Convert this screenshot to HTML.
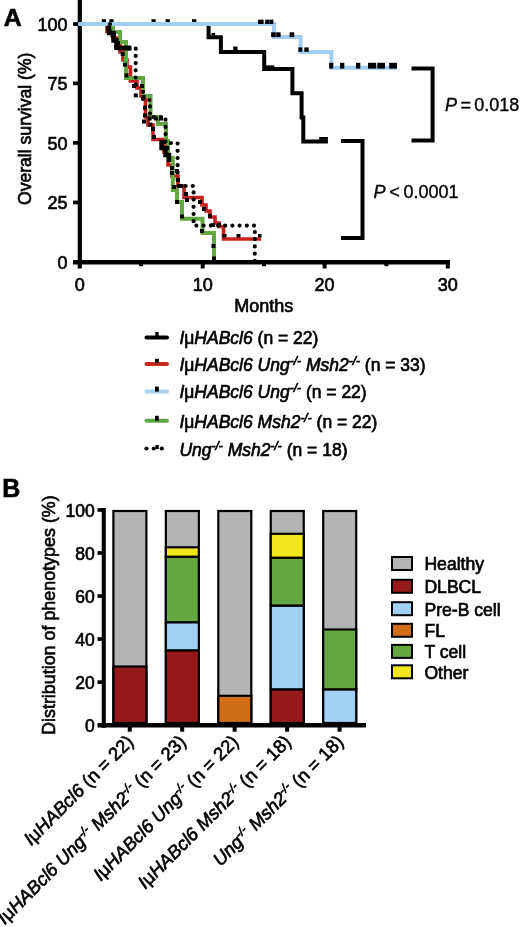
<!DOCTYPE html>
<html><head><meta charset="utf-8"><style>
html,body{margin:0;padding:0;background:#fff;width:520px;height:927px;overflow:hidden}
svg{display:block;will-change:transform}
text{font-family:"Liberation Sans",sans-serif;fill:#000;stroke:#000;stroke-width:0.65px}
.i{font-style:italic}
</style></head><body>
<svg width="520" height="927" viewBox="0 0 520 927">
<!-- ================= PANEL A ================= -->
<text x="3.8" y="26" font-size="24.8" font-weight="bold">A</text>
<!-- y tick labels -->
<g font-size="18" text-anchor="end">
<text x="67.5" y="30.5">100</text>
<text x="67.5" y="90">75</text>
<text x="67.5" y="149.5">50</text>
<text x="67.5" y="209">25</text>
<text x="67.5" y="268.5">0</text>
</g>
<g font-size="18" text-anchor="middle">
<text x="79.8" y="291">0</text>
<text x="202.7" y="291">10</text>
<text x="324.6" y="291">20</text>
<text x="447.8" y="291">30</text>
</g>
<text x="263.7" y="311.7" font-size="18" text-anchor="middle">Months</text>
<text transform="translate(31.4,128.8) rotate(-90)" font-size="17.6" text-anchor="middle">Overall survival (%)</text>

<!-- curves placeholder -->
<g id="curves" fill="none" stroke-linejoin="miter" stroke-linecap="butt">
<path d="M80,24 H208.6 V37.2 H220.9 V52 H264.2 V69 H292.4 V93.2 H301.6 V117.5 H303.3 V141.4 H327.9" stroke="#000" stroke-width="4"/>
<path d="M80,24 H107 V31.5 H113 V38 H117 V45 H120 V52 H123 V60 H127 V67 H130.4 V81 H137 V88 H141 V96 H145.5 V117 H148 V125 H153 V139.5 H164 V152 H168 V165 H172 V176 H178 V186 H184 V197.5 H202 V205 H206 V211 H210 V217 H215 V223 H219 V226.5 H223.5 V239 H261" stroke="#c8201e" stroke-width="3.6"/>
<path d="M80,24 H113 V32 H120 V42 H126 V78 H143 V96 H150.5 V117 H158 V124 H166 V141 H168 V158 H172.8 V190 H177 V202 H182 V218.8 H202.5 V233 H214 V262" stroke="#64a842" stroke-width="4"/>
<path d="M80,24 H274 V37 H300.6 V52 H331.4 V67.7 H397" stroke="#a2cef2" stroke-width="4"/>
<path d="M109,25.5 V33 H113.5 V40.5 H116.5 V47.8 H131" stroke="#000" stroke-width="4.4"/>
<path d="M161.5,140 V148 H165.5 V155 H169 V161" stroke="#000" stroke-width="4.4"/>
<path d="M110,24 V36 H116 V48.5 H135.7 V86 H143 V100 H150 V117 H165.5 V143 H177.6 V186 H193.6 V225.6 H254.8 V262" stroke="#000" stroke-width="4.2" stroke-linecap="round" stroke-dasharray="0 7.2"/>
</g>
<g id="cens" fill="#000">
<rect x="101.8" y="19.2" width="4.2" height="2.8"/><rect x="109.4" y="19.2" width="4.2" height="2.8"/>
<rect x="151.5" y="19.2" width="4.2" height="2.8"/><rect x="165.6" y="19.2" width="4.2" height="2.8"/>
<rect x="192" y="19.2" width="4.4" height="2.8"/>
<rect x="258" y="19.6" width="5.6" height="4.4"/><rect x="265.2" y="19.6" width="4" height="4.4"/><rect x="269.4" y="19.6" width="4" height="4.4"/>
<rect x="271.1" y="32.3" width="4.6" height="4.8"/><rect x="276.2" y="32.3" width="4.4" height="4.8"/><rect x="289.6" y="32.3" width="4.6" height="4.8"/>
<rect x="298.3" y="47.4" width="4" height="4.4"/><rect x="304.3" y="47.4" width="4.4" height="4.4"/>
<rect x="329.2" y="62.8" width="4" height="5.8"/><rect x="340.1" y="62.8" width="4.2" height="5.8"/>
<rect x="356" y="62.8" width="4.3" height="5.8"/><rect x="368" y="62.8" width="8.2" height="5.8"/>
<rect x="377.3" y="62.8" width="7.7" height="5.8"/><rect x="389.2" y="62.8" width="7.8" height="5.8"/>
<rect x="211.5" y="33" width="3.7" height="2.6"/><rect x="233.2" y="46.6" width="4.3" height="3.6"/>
<rect x="265.7" y="65.4" width="8.6" height="2.6"/><rect x="319.2" y="137" width="8.7" height="2.8"/>
<!-- cluster -->
<rect x="106" y="26.5" width="4" height="4"/>
<rect x="112" y="32.6" width="4" height="4"/>
<rect x="116" y="41" width="4" height="4"/>
<rect x="117.6" y="46.5" width="4" height="4"/>
<rect x="123" y="46.5" width="4" height="4"/>
<rect x="127.6" y="46.5" width="4" height="4"/>
<rect x="120.7" y="52" width="4" height="4"/>
<rect x="123" y="62.6" width="4" height="4"/>
<rect x="124.5" y="73.4" width="4" height="4"/>
<rect x="132" y="84" width="4" height="4"/>
<rect x="140" y="84" width="4" height="4"/>
<rect x="133.8" y="93.4" width="4" height="4"/>
<rect x="141.5" y="95" width="4" height="4"/>
<rect x="143" y="105.7" width="4" height="4"/>
<rect x="143" y="113.4" width="4" height="4"/>
<rect x="142" y="119.5" width="4" height="4"/>
<rect x="147.6" y="116.5" width="4" height="4"/>
<rect x="153.8" y="116.5" width="4" height="4"/>
<rect x="159" y="116.5" width="4" height="4"/>
<rect x="148.4" y="122.6" width="4" height="4"/>
<rect x="151" y="127" width="4" height="4"/>
<rect x="152" y="135" width="4" height="4"/>
<rect x="162" y="140" width="4" height="4"/>
<rect x="165" y="146" width="4" height="4"/>
<rect x="167" y="154" width="4" height="4"/>
<rect x="167" y="158" width="4" height="4"/>
<rect x="170" y="166" width="4" height="4"/>
<rect x="170" y="171" width="4" height="4"/>
<rect x="175" y="169" width="4" height="4"/>
<rect x="176" y="178" width="4" height="4"/>
<rect x="172" y="185" width="4" height="4"/>
<rect x="179" y="184" width="4" height="4"/>
<rect x="184" y="192" width="4" height="4"/>
<rect x="185" y="198" width="4" height="4"/>
<rect x="198" y="200" width="4" height="4"/>
<rect x="175" y="200" width="4" height="4"/>
<rect x="202" y="207" width="4" height="4"/>
<rect x="180" y="214.5" width="4" height="4"/>
<rect x="208" y="214" width="4" height="4"/>
<rect x="211" y="223" width="4" height="4"/>
<rect x="217" y="223" width="4" height="4"/>
<rect x="200" y="229" width="4" height="4"/>
<rect x="222.5" y="234" width="4" height="3.5"/>
<rect x="236.5" y="234" width="4" height="3.5"/>
<rect x="258" y="234" width="3.6" height="3.5"/>
<rect x="211.5" y="244" width="4" height="4"/>
<rect x="212" y="256.5" width="4" height="4"/>
</g>


<!-- axes A -->
<rect x="77.7" y="0" width="4.2" height="264.5" fill="#000"/>
<rect x="73" y="260" width="377" height="4.5" fill="#000"/>
<path d="M79.6,24 H90" stroke="#a2cef2" stroke-width="4" stroke-linecap="round"/>
<g fill="#000">
<rect x="73" y="22.2" width="5" height="3.7"/>
<rect x="73" y="81.5" width="5" height="3.7"/>
<rect x="73" y="141" width="5" height="3.7"/>
<rect x="73" y="200.6" width="5" height="3.7"/>
<rect x="77.7" y="264" width="4.2" height="4.5"/>
<rect x="200.7" y="264" width="4" height="4.5"/>
<rect x="322.6" y="264" width="4" height="4.5"/>
<rect x="445.8" y="264" width="4" height="4.5"/>
<rect x="139" y="264" width="4" height="2.2"/>
<rect x="262" y="264" width="4" height="2.2"/>
<rect x="384.4" y="264" width="4" height="2.2"/>
</g>

<!-- P brackets -->
<path d="M411.5,68.6 H432.6 V140.6 H411.5" fill="none" stroke="#000" stroke-width="4"/>
<path d="M341,141 H362.5 V238 H341" fill="none" stroke="#000" stroke-width="4"/>
<text x="445" y="110.8" font-size="18" word-spacing="-1.6" style="stroke-width:0.35px"><tspan class="i">P</tspan> = 0.018</text>
<text x="373.5" y="197.7" font-size="18" word-spacing="-1.3" style="stroke-width:0.35px"><tspan class="i">P</tspan> &lt; 0.0001</text>

<!-- legend A -->
<g stroke-width="4" stroke-linecap="round">
<line x1="146.5" y1="337.4" x2="167" y2="337.4" stroke="#000"/>
<line x1="146.5" y1="364" x2="167" y2="364" stroke="#c8281e"/>
<line x1="146.5" y1="391.6" x2="167" y2="391.6" stroke="#a8d0f0"/>
<line x1="146.5" y1="420.8" x2="167" y2="420.8" stroke="#5ea544"/>
</g>
<g fill="#000">
<rect x="155.3" y="332" width="3.3" height="4"/>
<rect x="155" y="358.8" width="3.8" height="4.6"/>
<rect x="155" y="386.6" width="3.8" height="5"/>
<rect x="155" y="415.8" width="3.8" height="5"/>
<circle cx="146.5" cy="448.5" r="2.1"/>
<circle cx="153.8" cy="448.5" r="2.1"/>
<circle cx="161.8" cy="448.5" r="2.1"/>
<rect x="155.5" y="445" width="3.3" height="4"/>
</g>
<g font-size="17.5">
<text x="179.4" y="344"><tspan class="i">I<tspan style="font-style:normal">μ</tspan>HABcl6</tspan> (n = 22)</text>
<text x="179.4" y="371.1"><tspan class="i">I<tspan style="font-style:normal">μ</tspan>HABcl6 Ung</tspan><tspan class="i" font-size="12" dy="-6.5">-/-</tspan><tspan class="i" dy="6.5"> Msh2</tspan><tspan class="i" font-size="12" dy="-6.5">-/-</tspan><tspan dy="6.5"> (n = 33)</tspan></text>
<text x="179.4" y="398.2"><tspan class="i">I<tspan style="font-style:normal">μ</tspan>HABcl6 Ung</tspan><tspan class="i" font-size="12" dy="-6.5">-/-</tspan><tspan dy="6.5"> (n = 22)</tspan></text>
<text x="179.4" y="428.4"><tspan class="i">I<tspan style="font-style:normal">μ</tspan>HABcl6 Msh2</tspan><tspan class="i" font-size="12" dy="-6.5">-/-</tspan><tspan dy="6.5"> (n = 22)</tspan></text>
<text x="179.4" y="456.1"><tspan class="i">Ung</tspan><tspan class="i" font-size="12" dy="-6.5">-/-</tspan><tspan class="i" dy="6.5"> Msh2</tspan><tspan class="i" font-size="12" dy="-6.5">-/-</tspan><tspan dy="6.5"> (n = 18)</tspan></text>
</g>

<!-- ================= PANEL B ================= -->
<text x="2.3" y="496.5" font-size="25" font-weight="bold">B</text>
<text transform="translate(55,615.1) rotate(-90)" font-size="17.9" text-anchor="middle">Distribution of phenotypes (%)</text>
<g font-size="17.5" text-anchor="end">
<text x="94.8" y="516.5">100</text>
<text x="94.8" y="559.6">80</text>
<text x="94.8" y="602.6">60</text>
<text x="94.8" y="645.7">40</text>
<text x="94.8" y="688.7">20</text>
<text x="94.8" y="731.8">0</text>
</g>
<!-- bars -->
<g stroke="#000" stroke-width="2.2">
<rect x="113.40" y="511" width="33" height="212" fill="#b4b4b4"/>
<rect x="113.40" y="666.5" width="33" height="56.5" fill="#961a1c"/>
<rect x="165.85" y="511" width="33" height="212" fill="#b4b4b4"/>
<rect x="165.85" y="650.3" width="33" height="72.7" fill="#961a1c"/>
<rect x="165.85" y="622.2" width="33" height="28.1" fill="#a2d0f2"/>
<rect x="165.85" y="556.7" width="33" height="65.5" fill="#64a640"/>
<rect x="165.85" y="547.3" width="33" height="9.4" fill="#f0e61a"/>
<rect x="218.30" y="511" width="33" height="212" fill="#b4b4b4"/>
<rect x="218.30" y="695.8" width="33" height="27.2" fill="#d06e18"/>
<rect x="270.75" y="511" width="33" height="212" fill="#b4b4b4"/>
<rect x="270.75" y="689.3" width="33" height="33.7" fill="#961a1c"/>
<rect x="270.75" y="605.6" width="33" height="83.7" fill="#a2d0f2"/>
<rect x="270.75" y="557.7" width="33" height="47.8" fill="#64a640"/>
<rect x="270.75" y="533.8" width="33" height="23.9" fill="#f0e61a"/>
<rect x="323.20" y="511" width="33" height="212" fill="#b4b4b4"/>
<rect x="323.20" y="689.3" width="33" height="33.7" fill="#a2d0f2"/>
<rect x="323.20" y="629.5" width="33" height="59.8" fill="#64a640"/>
</g>
<!-- axes B -->
<g fill="#000">
<rect x="101.7" y="508" width="4.1" height="219.8"/>
<rect x="97.5" y="723" width="268.5" height="4.5"/>
<rect x="97.5" y="508.1" width="4.5" height="3.7"/>
<rect x="97.5" y="551.1" width="4.5" height="3.7"/>
<rect x="97.5" y="594.2" width="4.5" height="3.7"/>
<rect x="97.5" y="637.2" width="4.5" height="3.7"/>
<rect x="97.5" y="680.3" width="4.5" height="3.7"/>
<rect x="127.75" y="727" width="4" height="4.7"/>
<rect x="180.20" y="727" width="4" height="4.7"/>
<rect x="232.65" y="727" width="4" height="4.7"/>
<rect x="285.10" y="727" width="4" height="4.7"/>
<rect x="337.55" y="727" width="4" height="4.7"/>
</g>

<!-- x labels B -->
<g font-size="18.4" text-anchor="end">
<text transform="translate(134.5,743) rotate(-45)"><tspan class="i">I<tspan style="font-style:normal">μ</tspan>HABcl6</tspan> (n = 22)</text>
<text transform="translate(187.0,743) rotate(-45)"><tspan class="i">I<tspan style="font-style:normal">μ</tspan>HABcl6 Ung</tspan><tspan class="i" font-size="12" dy="-6.5">-/-</tspan><tspan class="i" dy="6.5"> Msh2</tspan><tspan class="i" font-size="12" dy="-6.5">-/-</tspan><tspan dy="6.5"> (n = 23)</tspan></text>
<text transform="translate(239.5,743) rotate(-45)"><tspan class="i">I<tspan style="font-style:normal">μ</tspan>HABcl6 Ung</tspan><tspan class="i" font-size="12" dy="-6.5">-/-</tspan><tspan dy="6.5"> (n = 22)</tspan></text>
<text transform="translate(292.0,743) rotate(-45)"><tspan class="i">I<tspan style="font-style:normal">μ</tspan>HABcl6 Msh2</tspan><tspan class="i" font-size="12" dy="-6.5">-/-</tspan><tspan dy="6.5"> (n = 18)</tspan></text>
<text transform="translate(344.5,743) rotate(-45)"><tspan class="i">Ung</tspan><tspan class="i" font-size="12" dy="-6.5">-/-</tspan><tspan class="i" dy="6.5"> Msh2</tspan><tspan class="i" font-size="12" dy="-6.5">-/-</tspan><tspan dy="6.5"> (n = 18)</tspan></text>
</g>

<!-- legend B -->
<g stroke="#000" stroke-width="2">
<rect x="392" y="557" width="20" height="13" fill="#b4b4b4"/>
<rect x="392" y="579.8" width="20" height="13" fill="#961a1c"/>
<rect x="392" y="602.2" width="20" height="13" fill="#a2d0f2"/>
<rect x="392" y="623.8" width="20" height="13" fill="#d06e18"/>
<rect x="392" y="644.9" width="20" height="13" fill="#64a640"/>
<rect x="392" y="665.3" width="20" height="13" fill="#f0e61a"/>
</g>
<g font-size="17.6">
<text x="424.4" y="570.4">Healthy</text>
<text x="424.4" y="593.2">DLBCL</text>
<text x="424.4" y="615.7">Pre-B cell</text>
<text x="424.4" y="637.3">FL</text>
<text x="424.4" y="658.4">T cell</text>
<text x="424.4" y="678.8">Other</text>
</g>
</svg>
</body></html>
